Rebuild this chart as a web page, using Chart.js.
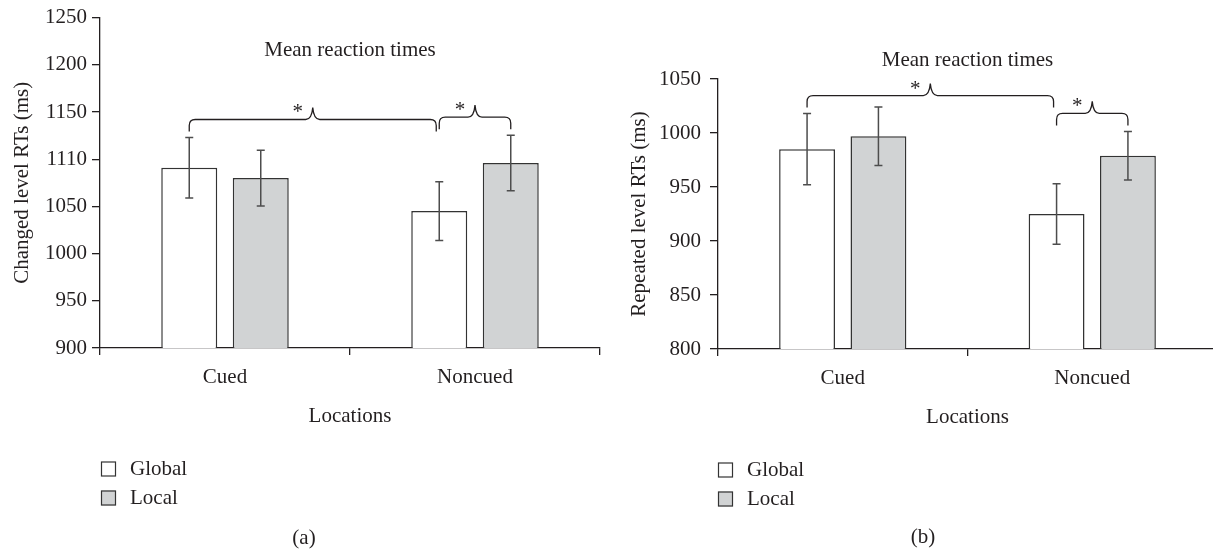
<!DOCTYPE html>
<html>
<head>
<meta charset="utf-8">
<script src="https://cdn.jsdelivr.net/npm/chart.js@4.4.1/dist/chart.umd.min.js"></script>
<style>
html, body { margin: 0; padding: 0; background: #ffffff; overflow: hidden; }
#wrap { position: relative; width: 1213px; height: 551px; overflow: hidden; background: #fff; }
#ca { position: absolute; left: 0; top: 0; }
#cb { position: absolute; left: 606px; top: 0; }
</style>
</head>
<body>
<div id="wrap">
  <canvas id="ca" width="606" height="551"></canvas>
  <canvas id="cb" width="620" height="551"></canvas>
</div>
<script>
// ---------------- data ----------------
const categories = ['Cued', 'Noncued'];
const seriesNames = ['Global', 'Local'];

// panel (a): changed level
const globalA = [1091, 1045];
const globalErrA = [32, 31];
const localA = [1080, 1096];
const localErrA = [29.5, 29.5];
const yTickLabelsA = ['900', '950', '1000', '1050', '1110', '1150', '1200', '1250'];

// panel (b): repeated level
const globalB = [985, 925];
const globalErrB = [33, 28];
const localB = [997, 979];
const localErrB = [27, 22.5];
const yTickLabelsB = ['800', '850', '900', '950', '1000', '1050'];

const chartTitle = 'Mean reaction times';
const xAxisTitle = 'Locations';
const yAxisTitleA = 'Changed level RTs (ms)';
const yAxisTitleB = 'Repeated level RTs (ms)';
const panelLabelA = '(a)';
const panelLabelB = '(b)';
const sigMark = '*';
// significance braces: pairs of [seriesIndex, categoryIndex]
const bracesA = [[[0, 0], [0, 1]], [[0, 1], [1, 1]]];
const bracesB = [[[0, 0], [0, 1]], [[0, 1], [1, 1]]];

// ---------------- style ----------------
const INK = '#231f20';
const FONT = '"Liberation Serif", "Times New Roman", serif';
const FS = 21;
const HALF_LH = FS * 1.2 / 2;

function extrasPlugin(d) {
  return {
    id: 'extras',
    afterDatasetsDraw(chart) {
      const ctx = chart.ctx;
      const ys = chart.scales.y;
      const ca = chart.chartArea;
      const dsets = chart.data.datasets;
      ctx.save();
      // error bars
      ctx.strokeStyle = '#4d4d4d';
      ctx.lineWidth = 1.5;
      dsets.forEach((ds, di) => {
        chart.getDatasetMeta(di).data.forEach((bar, i) => {
          const v = ds.data[i], e = ds.errors[i];
          const yt = ys.getPixelForValue(v + e);
          const yb = ys.getPixelForValue(v - e);
          const x = bar.x;
          ctx.beginPath();
          ctx.moveTo(x, yt); ctx.lineTo(x, yb);
          ctx.moveTo(x - 4, yt); ctx.lineTo(x + 4, yt);
          ctx.moveTo(x - 4, yb); ctx.lineTo(x + 4, yb);
          ctx.stroke();
        });
      });
      // braces
      ctx.strokeStyle = INK;
      ctx.lineWidth = 1.3;
      d.braces.forEach((br, k) => {
        const [a, b] = br;
        const barA = chart.getDatasetMeta(a[0]).data[a[1]];
        const barB = chart.getDatasetMeta(b[0]).data[b[1]];
        const tA = ys.getPixelForValue(dsets[a[0]].data[a[1]] + dsets[a[0]].errors[a[1]]);
        const tB = ys.getPixelForValue(dsets[b[0]].data[b[1]] + dsets[b[0]].errors[b[1]]);
        const end = Math.min(tA, tB) - 6;
        const line = end - 12;
        const peak = line - 12;
        const x0 = barA.x;
        const x1 = barB.x - (k === 0 ? 3 : 0);
        const r = 6, mid = (x0 + x1) / 2;
        ctx.beginPath();
        ctx.moveTo(x0, end);
        ctx.lineTo(x0, line + r);
        ctx.quadraticCurveTo(x0, line, x0 + r, line);
        ctx.lineTo(mid - 7, line);
        ctx.quadraticCurveTo(mid - 1, line, mid, peak);
        ctx.quadraticCurveTo(mid + 1, line, mid + 7, line);
        ctx.lineTo(x1 - r, line);
        ctx.quadraticCurveTo(x1, line, x1, line + r);
        ctx.lineTo(x1, end);
        ctx.stroke();
        ctx.fillStyle = INK;
        ctx.font = '21px ' + FONT;
        ctx.textAlign = 'center';
        ctx.textBaseline = 'alphabetic';
        ctx.fillText(sigMark, mid - 15, peak + 11);
      });
      // title
      ctx.fillStyle = INK;
      ctx.font = FS + 'px ' + FONT;
      ctx.textAlign = 'center';
      ctx.textBaseline = 'middle';
      ctx.fillText(chartTitle, (ca.left + ca.right) / 2, d.titleY);
      // legend
      ctx.textAlign = 'left';
      dsets.forEach((ds, di) => {
        const cy = d.legendY[di];
        ctx.fillStyle = ds.backgroundColor;
        ctx.fillRect(d.legendX, cy - 7.5, 15, 15);
        ctx.strokeStyle = '#333';
        ctx.lineWidth = 1.2;
        ctx.strokeRect(d.legendX + 0.5, cy - 7, 14, 14);
        ctx.fillStyle = INK;
        ctx.fillText(ds.label, d.legendX + 29, cy);
      });
      // panel label
      ctx.textAlign = 'center';
      ctx.fillText(d.panel, d.panelX, d.panelY);
      ctx.restore();
    }
  };
}

function makeChart(canvas, d) {
  const font = { family: FONT, size: FS };
  return new Chart(canvas, {
    type: 'bar',
    data: {
      labels: categories,
      datasets: [
        { label: seriesNames[0], data: d.global, errors: d.globalErr,
          backgroundColor: '#ffffff', borderColor: '#333333', borderWidth: 1.5 },
        { label: seriesNames[1], data: d.local, errors: d.localErr,
          backgroundColor: '#d1d3d4', borderColor: '#333333', borderWidth: 1.5 }
      ]
    },
    options: {
      responsive: false,
      animation: false,
      devicePixelRatio: 1,
      categoryPercentage: 0.572,
      barPercentage: 0.783,
      layout: { padding: { top: d.top, left: 0, right: d.padRight, bottom: 0 } },
      plugins: { legend: { display: false }, tooltip: { enabled: false } },
      scales: {
        x: {
          grid: { display: true, drawOnChartArea: false, drawTicks: true, tickLength: 7,
                  color: INK, lineWidth: 1.3, offset: true },
          border: { display: true, color: INK, width: 1.3 },
          ticks: { font: font, color: INK, padding: d.xLabelY - d.bottom - 7 - HALF_LH },
          title: { display: true, text: xAxisTitle, font: font, color: INK,
                   padding: { top: 0, bottom: 551 - d.xTitleY - HALF_LH } },
          afterFit: s => { s.height = 551 - d.bottom; }
        },
        y: {
          min: d.min, max: d.max,
          ticks: { stepSize: 50, font: font, color: INK, padding: d.yTickPad,
                   callback: (v, i) => d.tickLabels[i] },
          grid: { display: true, drawOnChartArea: false, drawTicks: true, tickLength: 8,
                  color: INK, lineWidth: 1.3 },
          border: { display: true, color: INK, width: 1.3 },
          title: { display: true, text: d.yTitle, font: font, color: INK,
                   padding: { top: d.yTitleX - HALF_LH, bottom: 0 } },
          afterFit: s => { s.width = d.yWidth; }
        }
      }
    },
    plugins: [extrasPlugin(d)]
  });
}

makeChart(document.getElementById('ca'), {
  global: globalA, globalErr: globalErrA, local: localA, localErr: localErrA,
  tickLabels: yTickLabelsA, min: 900, max: 1250, yTitle: yAxisTitleA,
  braces: bracesA, top: 16, bottom: 348, padRight: 6, yWidth: 100,
  xLabelY: 377, xTitleY: 416, yTitleX: 22, yTickPad: 5,
  titleY: 50, legendX: 101, legendY: [469, 498], panel: panelLabelA, panelX: 304, panelY: 538
});

makeChart(document.getElementById('cb'), {
  global: globalB, globalErr: globalErrB, local: localB, localErr: localErrB,
  tickLabels: yTickLabelsB, min: 800, max: 1050, yTitle: yAxisTitleB,
  braces: bracesB, top: 79, bottom: 349, padRight: 9, yWidth: 112,
  xLabelY: 378, xTitleY: 417, yTitleX: 33, yTickPad: 9,
  titleY: 60, legendX: 112, legendY: [470, 499], panel: panelLabelB, panelX: 317, panelY: 537
});
</script>
</body>
</html>
